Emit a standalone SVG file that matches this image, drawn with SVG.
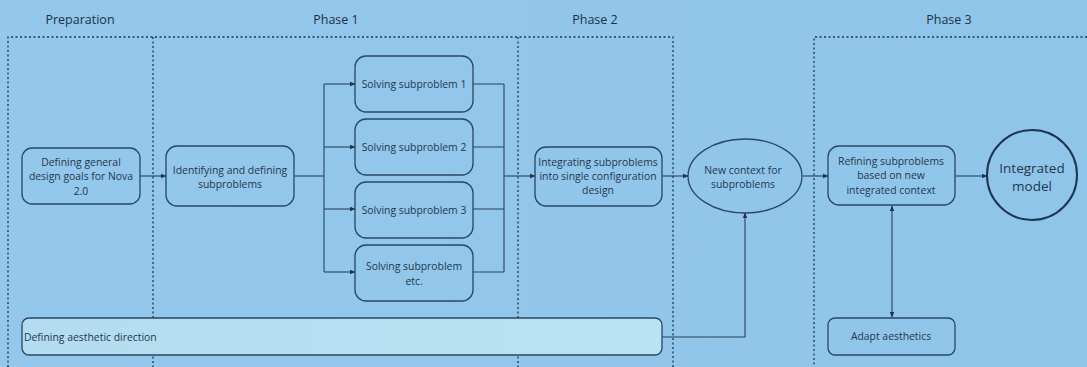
<svg xmlns="http://www.w3.org/2000/svg" width="1087" height="367" viewBox="0 0 1087 367">
  <defs>
    <linearGradient id="bg" x1="0" y1="0" x2="1" y2="0">
      <stop offset="0" stop-color="#93c7eb"/>
      <stop offset="1" stop-color="#90c5ea"/>
    </linearGradient>
    <linearGradient id="lightFill" x1="0" y1="0" x2="1" y2="0">
      <stop offset="0" stop-color="#b3dcf0"/>
      <stop offset="1" stop-color="#b9e2f2"/>
    </linearGradient>
    <marker id="arrow" viewBox="0 0 10 10" refX="9" refY="5" markerWidth="6" markerHeight="6" orient="auto-start-reverse" markerUnits="userSpaceOnUse">
      <path d="M0,1 L10,5 L0,9 Z" fill="#1e3550"/>
    </marker>
    <style>
      .lane { fill: none; stroke: #1e3550; stroke-width: 1.3; stroke-dasharray: 2 2.5; }
      .phase { font-family: "Open Sans", "Noto Sans", sans-serif; font-size: 12.5px; fill: #1e3044; text-anchor: middle; }
      .box { fill: none; stroke: #2a4763; stroke-width: 1.3; }
      .label { font-family: "Open Sans", "Noto Sans", sans-serif; font-size: 10.4px; fill: #23384d; text-anchor: middle; }
      .big { font-family: "Open Sans", "Noto Sans", sans-serif; font-size: 13.5px; fill: #23384d; text-anchor: middle; }
      .link { fill: none; stroke: #2a4258; stroke-width: 1.1; }
    </style>
  </defs>

  <rect width="1087" height="367" fill="url(#bg)"/>

  <!-- phase lanes -->
  <g id="lanes">
    <path class="lane" d="M8,367 V37 H673 V367"/>
    <path class="lane" d="M153,37 V367"/>
    <path class="lane" d="M518,37 V367"/>
    <path class="lane" d="M1087,37 H814 V367"/>
    <text class="phase" x="80" y="24">Preparation</text>
    <text class="phase" x="336" y="24">Phase 1</text>
    <text class="phase" x="595" y="24">Phase 2</text>
    <text class="phase" x="949" y="24">Phase 3</text>
  </g>

  <!-- connectors -->
  <g id="connectors">
    <path class="link" d="M140,176 H166" marker-end="url(#arrow)"/>
    <path class="link" d="M294,176 H324"/>
    <path class="link" d="M324,84 V272"/>
    <path class="link" d="M324,84 H355" marker-end="url(#arrow)"/>
    <path class="link" d="M324,147 H355" marker-end="url(#arrow)"/>
    <path class="link" d="M324,209 H355" marker-end="url(#arrow)"/>
    <path class="link" d="M324,272 H355" marker-end="url(#arrow)"/>
    <path class="link" d="M473,84 H504 M473,147 H504 M473,209 H504 M473,272 H504 M504,84 V272"/>
    <path class="link" d="M504,176 H535" marker-end="url(#arrow)"/>
    <path class="link" d="M662,176 H688" marker-end="url(#arrow)"/>
    <path class="link" d="M803,176 H828" marker-end="url(#arrow)"/>
    <path class="link" d="M955,176 H987" marker-end="url(#arrow)"/>
    <path class="link" d="M662,337 H745 V213" marker-end="url(#arrow)"/>
    <path class="link" d="M892,206 V317" marker-start="url(#arrow)" marker-end="url(#arrow)"/>
  </g>

  <g id="goals">
    <rect class="box" x="22" y="148" width="118" height="56" rx="10"/>
    <text class="label" x="81" y="166">Defining general</text>
    <text class="label" x="81" y="180">design goals for Nova</text>
    <text class="label" x="81" y="195">2.0</text>
  </g>

  <g id="identify">
    <rect class="box" x="166" y="146" width="128" height="60" rx="11"/>
    <text class="label" x="230" y="174">Identifying and defining</text>
    <text class="label" x="230" y="188">subproblems</text>
  </g>

  <g id="sub1">
    <rect class="box" x="355" y="56" width="118" height="56" rx="11"/>
    <text class="label" x="414" y="88">Solving subproblem 1</text>
  </g>
  <g id="sub2">
    <rect class="box" x="355" y="119" width="118" height="56" rx="11"/>
    <text class="label" x="414" y="151">Solving subproblem 2</text>
  </g>
  <g id="sub3">
    <rect class="box" x="355" y="182" width="118" height="56" rx="11"/>
    <text class="label" x="414" y="214">Solving subproblem 3</text>
  </g>
  <g id="subEtc">
    <rect class="box" x="355" y="245" width="118" height="56" rx="11"/>
    <text class="label" x="414" y="270">Solving subproblem</text>
    <text class="label" x="414" y="285">etc.</text>
  </g>

  <g id="integrate">
    <rect class="box" x="535" y="147" width="127" height="59" rx="11"/>
    <text class="label" x="598" y="166">Integrating subproblems</text>
    <text class="label" x="598" y="180">into single configuration</text>
    <text class="label" x="598" y="194">design</text>
  </g>

  <g id="context">
    <ellipse class="box" cx="745" cy="176" rx="57" ry="37"/>
    <text class="label" x="743" y="174">New context for</text>
    <text class="label" x="743" y="188">subproblems</text>
  </g>

  <g id="refine">
    <rect class="box" x="828" y="146" width="127" height="59" rx="11"/>
    <text class="label" x="891" y="165">Refining subproblems</text>
    <text class="label" x="891" y="179">based on new</text>
    <text class="label" x="891" y="194">integrated context</text>
  </g>

  <g id="model">
    <circle cx="1032" cy="175" r="45" fill="none" stroke="#1e3550" stroke-width="2"/>
    <text class="big" x="1032" y="173">Integrated</text>
    <text class="big" x="1032" y="191">model</text>
  </g>

  <g id="aesthetic">
    <rect x="22" y="318" width="640" height="37" rx="7" fill="url(#lightFill)" stroke="#2a4763" stroke-width="1.3"/>
    <text class="label" x="24" y="341" style="text-anchor:start">Defining aesthetic direction</text>
  </g>

  <g id="adapt">
    <rect class="box" x="828" y="318" width="127" height="37" rx="7"/>
    <text class="label" x="891" y="340">Adapt aesthetics</text>
  </g>
</svg>
